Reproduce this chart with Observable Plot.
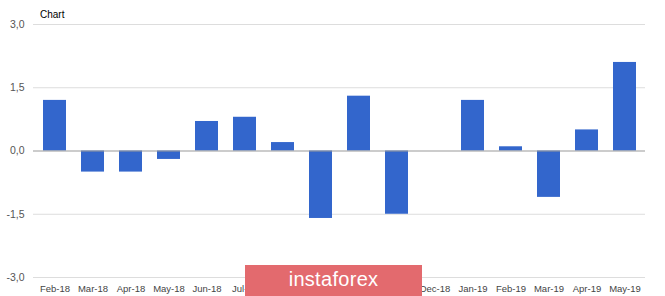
<!DOCTYPE html>
<html>
<head>
<meta charset="utf-8">
<script src="https://cdn.jsdelivr.net/npm/d3@7"></script>
<script src="https://cdn.jsdelivr.net/npm/@observablehq/plot@0.6"></script>
<style>
  html, body { margin: 0; padding: 0; background: #fff; }
  #wrap { position: relative; width: 665px; height: 296px; overflow: hidden; font-family: Arial, "Liberation Sans", sans-serif; }
  #title { position: absolute; left: 40px; top: 9px; font-size: 10px; color: #000; }
  #wm { position: absolute; left: 245px; top: 265px; width: 177px; height: 31px; background: #e36a6e; color: #fff;
        font-size: 20px; text-align: center; line-height: 29px; letter-spacing: 0.3px; }
</style>
</head>
<body>
<div id="wrap">
  <div id="chart"></div>
  <div id="title">Chart</div>
  <div id="wm">instaforex</div>
</div>
<script>
const months = ["Feb-18","Mar-18","Apr-18","May-18","Jun-18","Jul-18","Aug-18","Sep-18","Oct-18","Nov-18","Dec-18","Jan-19","Feb-19","Mar-19","Apr-19","May-19"];
const values = [1.2,-0.5,-0.5,-0.2,0.7,0.8,0.2,-1.6,1.3,-1.5,0,1.2,0.1,-1.1,0.5,2.1];
const yTicks = [-3,-1.5,0,1.5,3];

const data = months.map((m, i) => ({month: m, value: values[i]}));
const fmt = v => v.toFixed(1).replace(".", ",");

const chart = Plot.plot({
  width: 665,
  height: 296,
  marginLeft: 33,
  marginRight: 20,
  marginTop: 24,
  marginBottom: 19,
  style: {fontFamily: "Arial, 'Liberation Sans', sans-serif", fontSize: "10px", color: "#444", background: "#fff"},
  x: {domain: months, paddingInner: 0.4, paddingOuter: 0.2, label: null},
  y: {domain: [-3, 3], ticks: yTicks, label: null},
  marks: [
    Plot.ruleY(yTicks.filter(d => d !== 0), {stroke: "#ddd", strokeWidth: 1}),
    Plot.barY(data.filter(d => d.value !== 0), {x: "month", y: "value", fill: "#3366cc"}),
    Plot.ruleY([0], {stroke: "#999", strokeWidth: 1}),
    Plot.axisY({ticks: yTicks, tickFormat: fmt, tickSize: 0, tickPadding: 9, fill: "#555", fontSize: 10.5, label: null}),
    Plot.axisX({tickSize: 0, tickPadding: 8, fill: "#444", fontSize: 9.5, label: null})
  ]
});
document.getElementById("chart").appendChild(chart);
</script>
</body>
</html>
